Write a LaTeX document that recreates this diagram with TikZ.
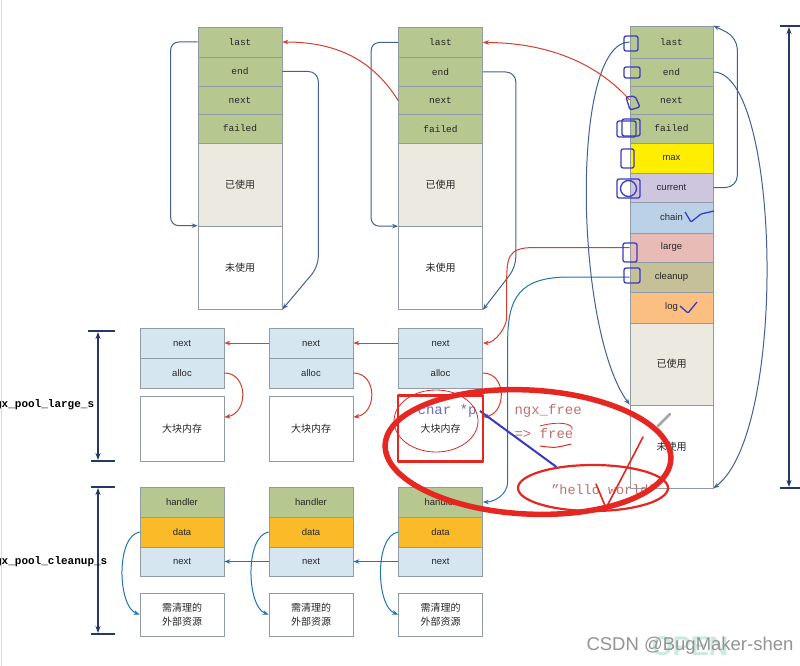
\documentclass[tikz,border=0pt]{standalone}
\usepackage{fontspec}
\setmainfont{Liberation Sans}
\setmonofont{Liberation Mono}
\newfontfamily\cjk{Noto Sans CJK SC}
\usetikzlibrary{arrows.meta,shapes.geometric}

\definecolor{hdgreen}{RGB}{182,199,144}
\definecolor{usedgray}{RGB}{236,233,225}
\definecolor{maxyellow}{RGB}{255,238,0}
\definecolor{curlilac}{RGB}{206,197,222}
\definecolor{chainblue}{RGB}{186,209,232}
\definecolor{largepink}{RGB}{232,187,183}
\definecolor{cleankhaki}{RGB}{197,192,152}
\definecolor{logorange}{RGB}{251,191,130}
\definecolor{lnblue}{RGB}{213,230,241}
\definecolor{dataorange}{RGB}{251,187,40}
\definecolor{cellline}{RGB}{145,155,165}
\definecolor{ptrblue}{RGB}{66,96,146}
\definecolor{ptrred}{RGB}{214,62,46}
\definecolor{ptrcyan}{RGB}{32,116,180}
\definecolor{dimblue}{RGB}{36,56,100}
\definecolor{markred}{RGB}{230,38,32}
\definecolor{markblue}{RGB}{58,58,190}
\definecolor{handred}{RGB}{192,112,112}
\definecolor{handblue}{RGB}{108,108,190}

\begin{document}
\begin{tikzpicture}[x=1pt, y=-1pt,
    cell/.style={draw=cellline, line width=0.7pt, minimum width=84pt, inner sep=0pt,
      text=black!85, font=\ttfamily\fontsize{9.5}{11}\selectfont},
    sfcell/.style={cell, font=\fontsize{9.5}{11}\selectfont},
    zhcell/.style={cell, align=center, font=\cjk\fontsize{10}{14}\selectfont},
    ptr/.style={draw=ptrblue, line width=1pt, -{Stealth[length=6pt,width=4.5pt]}},
    redptr/.style={ptr, draw=ptrred},
    cyanptr/.style={ptr, draw=ptrcyan},
    dimline/.style={draw=dimblue, line width=1.5pt},
    dimlabel/.style={font=\bfseries\ttfamily\fontsize{11}{13}\selectfont, anchor=west},
    marker/.style={draw=markred, line cap=round, line join=round},
    scribble/.style={draw=markblue, line width=1.3pt, rounded corners=2pt},
    handtext/.style={font=\ttfamily\fontsize{14}{16}\selectfont, text=handred}]
  \useasboundingbox (0,0) rectangle (800,666);
  \clip (0,0) rectangle (800,666);
  \fill[white] (0,0) rectangle (800,666);
  \draw[gray!30] (1.5,0) -- (1.5,666);

  % first pool block
  \node[cell, fill=hdgreen, minimum height=30pt] (p1last) at (240,42) {last};
  \node[cell, fill=hdgreen, minimum height=29pt] (p1end) at (240,71.5) {end};
  \node[cell, fill=hdgreen, minimum height=28pt] (p1next) at (240,100) {next};
  \node[cell, fill=hdgreen, minimum height=29pt] (p1failed) at (240,128.5) {failed};
  \node[zhcell, fill=usedgray, minimum height=83pt] (p1used) at (240,184.5) {已使用};
  \node[zhcell, minimum height=83pt] (p1unused) at (240,267.5) {未使用};

  % second pool block
  \node[cell, fill=hdgreen, minimum height=30pt] (p2last) at (440.5,42.5) {last};
  \node[cell, fill=hdgreen, minimum height=29pt] (p2end) at (440.5,72) {end};
  \node[cell, fill=hdgreen, minimum height=28pt] (p2next) at (440.5,100.5) {next};
  \node[cell, fill=hdgreen, minimum height=29pt] (p2failed) at (440.5,129) {failed};
  \node[zhcell, fill=usedgray, minimum height=83pt] (p2used) at (440.5,185) {已使用};
  \node[zhcell, minimum height=83pt] (p2unused) at (440.5,268) {未使用};

  % head pool block
  \node[cell, fill=hdgreen, minimum width=83pt, minimum height=32pt] (p3last) at (671.5,42) {last};
  \node[cell, fill=hdgreen, minimum width=83pt, minimum height=28pt] (p3end) at (671.5,72) {end};
  \node[cell, fill=hdgreen, minimum width=83pt, minimum height=28pt] (p3next) at (671.5,100) {next};
  \node[cell, fill=hdgreen, minimum width=83pt, minimum height=29pt] (p3failed) at (671.5,128.5) {failed};
  \node[sfcell, fill=maxyellow, minimum width=83pt, minimum height=30pt] (p3max) at (671.5,158) {max};
  \node[sfcell, fill=curlilac, minimum width=83pt, minimum height=29pt] (p3current) at (671.5,187.5) {current};
  \node[sfcell, fill=chainblue, minimum width=83pt, minimum height=31pt] (p3chain) at (671.5,217.5) {chain};
  \node[sfcell, fill=largepink, minimum width=83pt, minimum height=29pt] (p3large) at (671.5,247.5) {large};
  \node[sfcell, fill=cleankhaki, minimum width=83pt, minimum height=30pt] (p3cleanup) at (671.5,277) {cleanup};
  \node[sfcell, fill=logorange, minimum width=83pt, minimum height=31pt] (p3log) at (671.5,307.5) {log};
  \node[zhcell, fill=usedgray, minimum width=83pt, minimum height=82pt] (p3used) at (671.5,364) {已使用};
  \node[zhcell, minimum width=83pt, minimum height=83pt] (p3unused) at (671.5,446.5) {未使用};

  % large blocks
  \node[sfcell, fill=lnblue, minimum height=30pt] (p1Lnext) at (182,343) {next};
  \node[sfcell, fill=lnblue, minimum height=30pt] (p1Lalloc) at (182,373) {alloc};
  \node[zhcell, minimum height=65pt] (p1Lbig) at (182,428.5) {大块内存};
  \node[sfcell, fill=lnblue, minimum height=30pt] (p2Lnext) at (311,343) {next};
  \node[sfcell, fill=lnblue, minimum height=30pt] (p2Lalloc) at (311,373) {alloc};
  \node[zhcell, minimum height=65pt] (p2Lbig) at (311,428.5) {大块内存};
  \node[sfcell, fill=lnblue, minimum height=30pt] (p3Lnext) at (440.5,343) {next};
  \node[sfcell, fill=lnblue, minimum height=30pt] (p3Lalloc) at (440.5,373) {alloc};
  \node[zhcell, minimum height=65pt] (p3Lbig) at (440.5,428.5) {大块内存};

  % cleanup blocks
  \node[sfcell, fill=hdgreen, minimum height=30pt] (p1Chandler) at (182,502) {handler};
  \node[sfcell, fill=dataorange, minimum height=30pt] (p1Cdata) at (182,532) {data};
  \node[sfcell, fill=lnblue, minimum height=29pt] (p1Cnext) at (182,561.5) {next};
  \node[zhcell, minimum height=43pt] (p1Cext) at (182,614.5) {需清理的\\外部资源};
  \node[sfcell, fill=hdgreen, minimum height=30pt] (p2Chandler) at (311,502) {handler};
  \node[sfcell, fill=dataorange, minimum height=30pt] (p2Cdata) at (311,532) {data};
  \node[sfcell, fill=lnblue, minimum height=29pt] (p2Cnext) at (311,561.5) {next};
  \node[zhcell, minimum height=43pt] (p2Cext) at (311,614.5) {需清理的\\外部资源};
  \node[sfcell, fill=hdgreen, minimum height=30pt] (p3Chandler) at (440.5,502) {handler};
  \node[sfcell, fill=dataorange, minimum height=30pt] (p3Cdata) at (440.5,532) {data};
  \node[sfcell, fill=lnblue, minimum height=29pt] (p3Cnext) at (440.5,561.5) {next};
  \node[zhcell, minimum height=43pt] (p3Cext) at (440.5,614.5) {需清理的\\外部资源};

  % size marks
  \draw[dimline] (780,26) -- (800,26);
  \draw[dimline] (780,488) -- (800,488);
  \draw[dimline, {Stealth[length=7pt,width=5pt]}-{Stealth[length=7pt,width=5pt]}] (789,27) -- (789,487);
  \draw[dimline] (88,331) -- (115,331);
  \draw[dimline] (91,461) -- (115,461);
  \draw[dimline, {Stealth[length=7pt,width=5pt]}-{Stealth[length=7pt,width=5pt]}] (98,332) -- (98,460);
  \draw[dimline] (91,487) -- (115,487);
  \draw[dimline] (91,634) -- (115,634);
  \draw[dimline, {Stealth[length=7pt,width=5pt]}-{Stealth[length=7pt,width=5pt]}] (98,488) -- (98,633);
  \node[dimlabel] (lblLarge) at (-15,405) {ngx\_pool\_large\_s};
  \node[dimlabel] (lblClean) at (-15,562) {ngx\_pool\_cleanup\_s};

  % pool pointers
  \draw[ptr, rounded corners=8pt] (p1last.west) -- ++(-27,0) |- (p1unused.north west);
  \draw[ptr, rounded corners=10pt] (p1end.east) -- ++(36,0) -- ++(0,195) -- (p1unused.south east);
  \draw[ptr, rounded corners=8pt] (p2last.west) -- ++(-27,0) |- (p2unused.north west);
  \draw[ptr, rounded corners=10pt] (p2end.east) -- ++(33,0) -- ++(0,195) -- (p2unused.south east);
  \draw[ptr] (p3last.west) .. controls +(-60,0) and +(-55,-75) .. (p3unused.north west);
  \draw[ptr] (p3end.east) .. controls +(67,0) and +(75,-57) .. (p3unused.south east);
  \draw[ptr, rounded corners=12pt] (p3current.east) -- ++(24,0) -- ++(0,-150) -- (p3last.north east);
  \draw[redptr] (p2next.west) .. controls +(-25,-40) and +(55,0) .. (p1last.east);
  \draw[redptr] (p3next.west) .. controls +(-40,-45) and +(50,0) .. (p2last.east);

  % large chain
  \draw[redptr] (p3large.west) -- ++(-95,0) .. controls +(-28,0) and +(0,-30) .. ++(-28,40)
    -- ++(0,30) .. controls +(0,10) and +(12,0) .. (p3Lnext.east);
  \draw[redptr] (p3Lnext.west) -- (p2Lnext.east);
  \draw[redptr] (p2Lnext.west) -- (p1Lnext.east);
  \draw[redptr] (p1Lalloc.east) .. controls +(24,0) and +(24,-4) .. (p1Lbig.15);
  \draw[redptr] (p2Lalloc.east) .. controls +(24,0) and +(24,-4) .. (p2Lbig.15);
  \draw[redptr] (p3Lalloc.east) .. controls +(24,0) and +(24,-4) .. (p3Lbig.15);

  % cleanup chain
  \draw[cyanptr] (p3cleanup.west) -- ++(-60,0) .. controls +(-50,0) and +(0,-45) .. ++(-62,65)
    -- ++(0,140) .. controls +(0,12) and +(12,0) .. (p3Chandler.east);
  \draw[cyanptr] (p3Cnext.west) -- (p2Cnext.east);
  \draw[cyanptr] (p2Cnext.west) -- (p1Cnext.east);
  \draw[cyanptr] (p1Cdata.west) .. controls +(-24,4) and +(-22,-8) .. (p1Cext.west);
  \draw[cyanptr] (p2Cdata.west) .. controls +(-24,4) and +(-22,-8) .. (p2Cext.west);
  \draw[cyanptr] (p3Cdata.west) .. controls +(-24,4) and +(-22,-8) .. (p3Cext.west);

  % hand notes
  \draw[scribble] (624,36) rectangle (638,51);
  \draw[scribble] (624,67) rectangle (640,78);
  \draw[scribble] (626,97) -- (635,96) -- (640,107) -- (630,110) -- cycle;
  \draw[scribble] (617,121) rectangle (636,137);
  \draw[scribble] (622,119) rectangle (640,136);
  \draw[scribble] (621,149) rectangle (634,168);
  \draw[scribble] (617,179) rectangle (640,198);
  \draw[scribble] (628.5,188.5) circle [radius=8];
  \draw[scribble] (623,243) rectangle (637,262);
  \draw[scribble] (624,268) rectangle (640,283);
  \draw[scribble, rounded corners=1pt] (685,212) -- (691,222) -- (701,214) -- (714,211);
  \draw[scribble, rounded corners=1pt] (680,306) -- (688,313) -- (697,302);
  \draw[gray!70, line width=2.5pt, line cap=round] (658,426) -- (670,414);
  \node[handtext, text=handblue] (charp) at (447,411) {char *p};
  \node[handtext, anchor=west] (freeA) at (511,411) {ngx\_free};
  \node[handtext, anchor=west] (freeB) at (511,433) {=> free};
  \draw[marker, line width=1pt] (540,446) .. controls (555,448) .. (571,444);
  \draw[marker, line width=0.8pt] (540,426) .. controls (558,421) and (574,423) .. (572,430);
  \node[draw=markred, line width=2.2pt, ellipse, inner sep=0pt,
    minimum width=150pt, minimum height=46pt] (hello) at (593,488) {};
  \node[handtext, font=\ttfamily\fontsize{13.5}{15}\selectfont] (hellotxt) at (604,490) {”hello world”};
  \draw[markblue, line width=2pt] (charp.east) -- (hello.150);
  \draw[marker, line width=2.5pt] (p3Lbig.north west) rectangle (p3Lbig.south east);
  \draw[marker, line width=0.8pt] (436,421) ellipse [x radius=42, y radius=31];
  \draw[marker, line width=1.6pt] (596,484) -- (606,508) -- (643,437);
  \draw[marker, line width=5.5pt, shift={(528,452)}, rotate=-3] (0,0) ellipse [x radius=143, y radius=62];

  % watermark
  \node[text={rgb,255:red,205;green,234;blue,222}, font=\bfseries\fontsize{27}{30}\selectfont] (wmlogo) at (690,646) {OPEN};
  \node[text=gray!85, font=\fontsize{18.5}{20}\selectfont] (wm) at (690,646) {CSDN @BugMaker-shen};
\end{tikzpicture}
\end{document}
